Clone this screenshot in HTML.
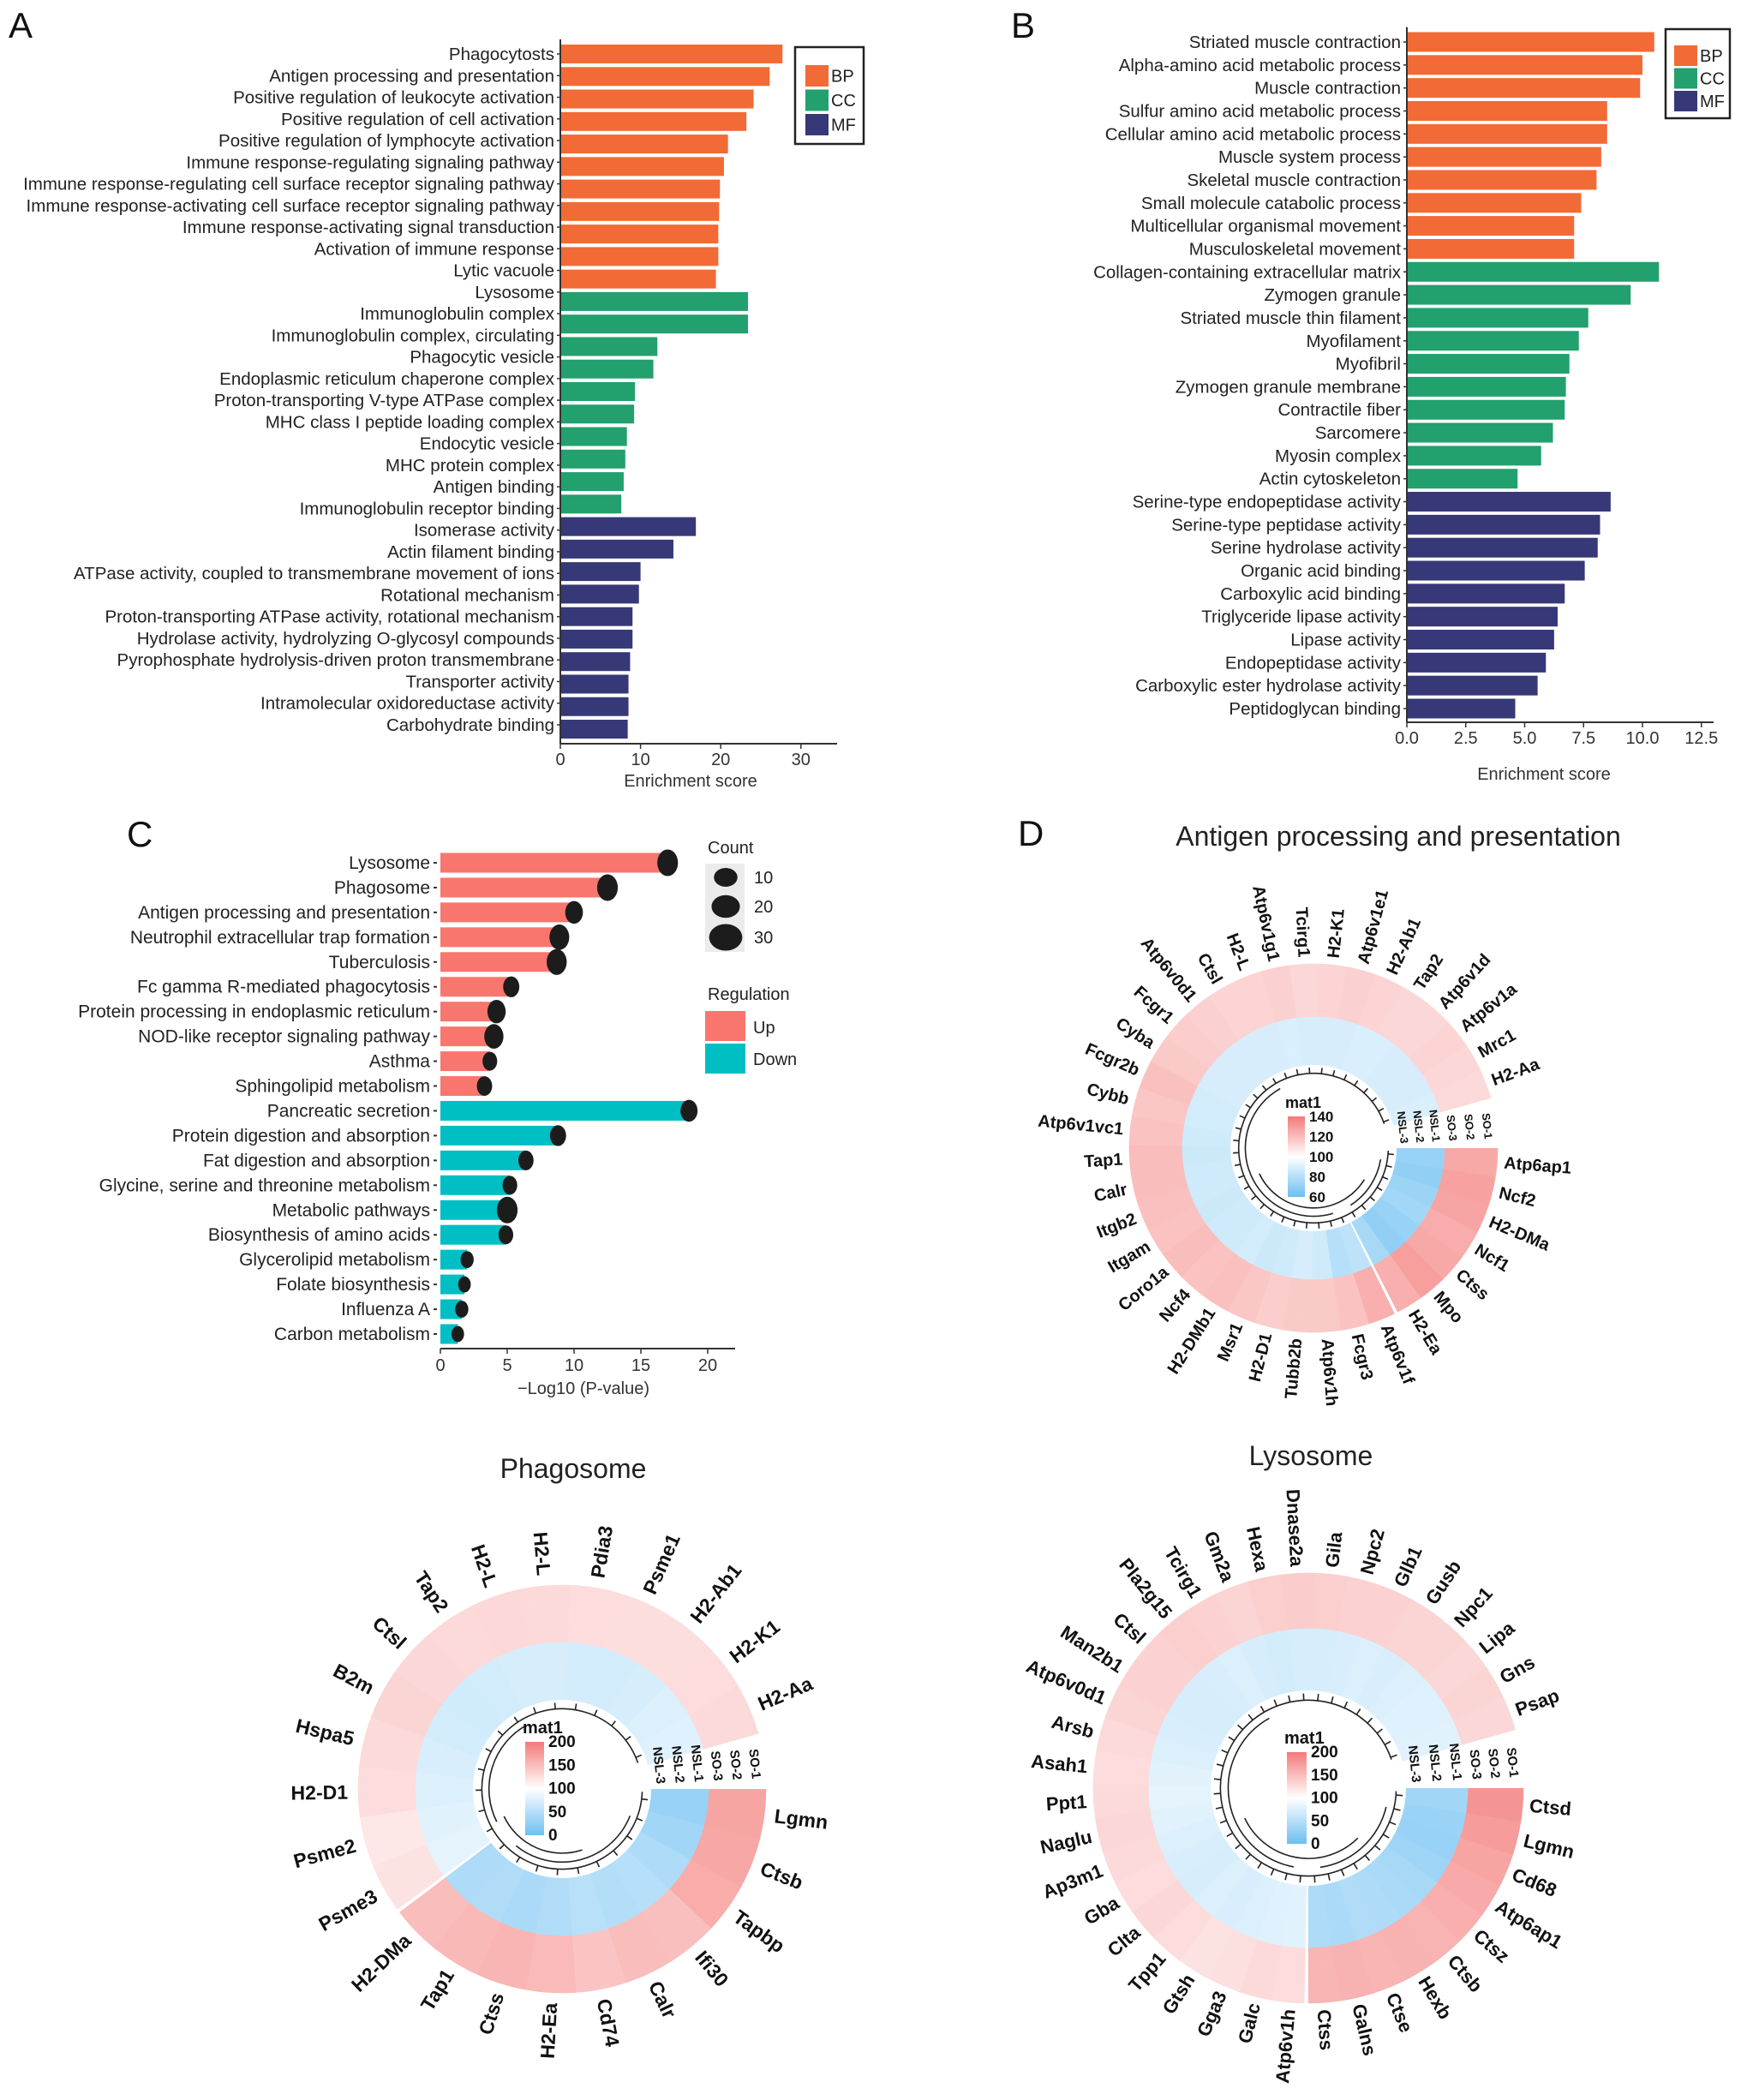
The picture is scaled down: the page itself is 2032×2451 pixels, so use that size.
<!DOCTYPE html>
<html><head><meta charset="utf-8">
<style>
html,body{margin:0;padding:0;background:#fff;}
svg{display:block;font-family:"Liberation Sans",Arial,sans-serif;}
</style></head>
<body>
<svg id="fig" width="2032" height="2451" viewBox="0 0 2032 2451" xmlns="http://www.w3.org/2000/svg">
<rect width="2032" height="2451" fill="#fff"/>
<g id="panelA"></g>
<g id="panelB"></g>
<g id="panelC"></g>
<g id="panelD"></g>
</svg>
<script>
// ---------- Panel A data ----------
const aLabels = ["Phagocytosts","Antigen processing and presentation","Positive regulation of leukocyte activation","Positive regulation of cell activation","Positive regulation of lymphocyte activation","Immune response-regulating signaling pathway","Immune response-regulating cell surface receptor signaling pathway","Immune response-activating cell surface receptor signaling pathway","Immune response-activating signal transduction","Activation of immune response","Lytic vacuole","Lysosome","Immunoglobulin complex","Immunoglobulin complex, circulating","Phagocytic vesicle","Endoplasmic reticulum chaperone complex","Proton-transporting V-type ATPase complex","MHC class I peptide loading complex","Endocytic vesicle","MHC protein complex","Antigen binding","Immunoglobulin receptor binding","Isomerase activity","Actin filament binding","ATPase activity, coupled to transmembrane movement of ions","Rotational mechanism","Proton-transporting ATPase activity, rotational mechanism","Hydrolase activity, hydrolyzing O-glycosyl compounds","Pyrophosphate hydrolysis-driven proton transmembrane","Transporter activity","Intramolecular oxidoreductase activity","Carbohydrate binding"];
const aValues = [27.7,26.1,24.1,23.2,20.9,20.4,19.9,19.8,19.7,19.7,19.4,23.4,23.4,12.1,11.6,9.3,9.2,8.3,8.1,7.9,7.6,16.9,14.1,10.0,9.8,9.0,9.0,8.7,8.5,8.5,8.4];
const aGroups = ["BP","BP","BP","BP","BP","BP","BP","BP","BP","BP","BP","CC","CC","CC","CC","CC","CC","CC","CC","CC","CC","MF","MF","MF","MF","MF","MF","MF","MF","MF","MF"];
const aTicks = [0,10,20,30];
// ---------- Panel B data ----------
const bLabels = ["Striated muscle contraction","Alpha-amino acid metabolic process","Muscle contraction","Sulfur amino acid metabolic process","Cellular amino acid metabolic process","Muscle system process","Skeletal muscle contraction","Small molecule catabolic process","Multicellular organismal movement","Musculoskeletal movement","Collagen-containing extracellular matrix","Zymogen granule","Striated muscle thin filament","Myofilament","Myofibril","Zymogen granule membrane","Contractile fiber","Sarcomere","Myosin complex","Actin cytoskeleton","Serine-type endopeptidase activity","Serine-type peptidase activity","Serine hydrolase activity","Organic acid binding","Carboxylic acid binding","Triglyceride lipase activity","Lipase activity","Endopeptidase activity","Carboxylic ester hydrolase activity","Peptidoglycan binding"];
const bValues = [10.5,10.0,9.9,8.5,8.5,8.25,8.05,7.4,7.1,7.1,10.7,9.5,7.7,7.3,6.9,6.75,6.7,6.2,5.7,4.7,8.65,8.2,8.1,7.55,6.7,6.4,6.25,5.9,5.55,4.6];
const bGroups = ["BP","BP","BP","BP","BP","BP","BP","BP","BP","BP","CC","CC","CC","CC","CC","CC","CC","CC","CC","CC","MF","MF","MF","MF","MF","MF","MF","MF","MF","MF"];
const bTicks = [0,2.5,5,7.5,10,12.5];
const bTickLabels = ["0.0","2.5","5.0","7.5","10.0","12.5"];
// ---------- Panel C data ----------
const cLabels = ["Lysosome","Phagosome","Antigen processing and presentation","Neutrophil extracellular trap formation","Tuberculosis","Fc gamma R-mediated phagocytosis","Protein processing in endoplasmic reticulum","NOD-like receptor signaling pathway","Asthma","Sphingolipid metabolism","Pancreatic secretion","Protein digestion and absorption","Fat digestion and absorption","Glycine, serine and threonine metabolism","Metabolic pathways","Biosynthesis of amino acids","Glycerolipid metabolism","Folate biosynthesis","Influenza A","Carbon metabolism"];
const cValues = [17.0,12.5,10.0,8.9,8.7,5.3,4.2,4.0,3.7,3.3,18.6,8.8,6.4,5.2,5.0,4.9,2.0,1.8,1.6,1.3];
const cCounts = [30,30,20,27,28,15,22,25,10,12,18,15,12,10,30,10,5,3,5,3];
const cRegulation = ["Up","Up","Up","Up","Up","Up","Up","Up","Up","Up","Down","Down","Down","Down","Down","Down","Down","Down","Down","Down"];
const cTicks = [0,5,10,15,20];
const cCountLegend = [10,20,30];
// ---------- Panel D data ----------
const dGenes = ["Atp6ap1","Ncf2","H2-DMa","Ncf1","Ctss","Mpo","H2-Ea","Atp6v1f","Fcgr3","Atp6v1h","Tubb2b","H2-D1","Msr1","H2-DMb1","Ncf4","Coro1a","Itgam","Itgb2","Calr","Tap1","Atp6v1vc1","Cybb","Fcgr2b","Cyba","Fcgr1","Atp6v0d1","Ctsl","H2-L","Atp6v1g1","Tcirg1","H2-K1","Atp6v1e1","H2-Ab1","Tap2","Atp6v1d","Atp6v1a","Mrc1","H2-Aa"];
const dSO  = [126,128,127,125,126,129,124,124,118,116,116,115,117,119,118,120,118,119,120,120,118,117,119,116,115,114,113,113,114,112,113,114,113,112,112,113,112,111];
const dNSL = [72,70,73,75,72,70,76,82,80,87,89,87,86,88,87,87,86,87,87,86,87,88,88,89,89,89,89,89,90,89,89,89,90,90,89,89,89,90];
const dStrongCount = 7;
const pGenes = ["Lgmn","Ctsb","Tapbp","Ifi30","Calr","Cd74","H2-Ea","Ctss","Tap1","H2-DMa","Psme3","Psme2","H2-D1","Hspa5","B2m","Ctsl","Tap2","H2-L","H2-L","Pdia3","Psme1","H2-Ab1","H2-K1","H2-Aa"];
const pSO  = [168,166,162,148,150,144,152,156,153,150,122,118,126,128,132,130,128,129,128,126,125,125,126,128];
const pNSL = [30,36,44,50,48,52,46,42,46,44,82,80,76,74,70,68,70,72,72,70,70,72,76,78];
const pStrongCount = 10;
const lGenes = ["Ctsd","Lgmn","Cd68","Atp6ap1","Ctsz","Ctsb","Hexb","Ctse","Galns","Ctss","Atp6v1h","Galc","Gga3","Gtsh","Tpp1","Clta","Gba","Ap3m1","Naglu","Ppt1","Asah1","Arsb","Atp6v0d1","Man2b1","Ctsl","Pla2g15","Tcirg1","Gm2a","Hexa","Dnase2a","Gila","Npc2","Glb1","Gusb","Npc1","Lipa","Gns","Psap"];
const lSO  = [180,174,168,164,160,157,158,156,158,156,126,128,124,122,126,130,126,128,130,128,126,128,132,134,134,136,134,132,136,138,136,134,134,132,132,130,132,130];
const lNSL = [36,32,30,34,40,42,44,46,42,44,80,78,76,74,76,72,74,76,80,82,80,76,74,72,72,74,76,72,70,72,72,74,76,74,76,78,78,80];
const lStrongCount = 10;
</script>
<script>
const NS="http://www.w3.org/2000/svg";
function el(tag, attrs, parent){const e=document.createElementNS(NS,tag);for(const k in attrs)e.setAttribute(k,attrs[k]);if(parent)parent.appendChild(e);return e;}
function txt(parent, s, attrs){const t=el('text',attrs,parent);t.textContent=s;return t;}
const groupColor={BP:"#F26A36",CC:"#22A06D",MF:"#363878"};

function barPanel(gid, labels, values, groups, o){
  const g=document.getElementById(gid);
  const xs=v=>o.x0+v*o.ppu;
  const ys=i=>o.y0+i*o.step;
  const ly=i=>o.ly0+i*o.lstep;
  const yl=el('line',{x1:o.x0,x2:o.x0,y1:o.y0-o.step/2-4,y2:o.axisY,stroke:"#333","stroke-width":2},g);
  
  
  values.forEach((v,i)=>{
    const r=el('rect',{x:o.x0+1,y:ys(i)-o.barH/2,width:Math.max(0,xs(v)-o.x0-1),height:o.barH,fill:groupColor[groups[i]]},g);
    
    
  });
  labels.forEach((lab,i)=>{
    const t=txt(g,lab,{x:o.x0-7,y:ly(i)+7,"text-anchor":"end","font-size":o.fs,fill:"#222"});
    
    
    el('line',{x1:o.x0-4,x2:o.x0,y1:ly(i),y2:ly(i),stroke:"#333","stroke-width":1.5},g);
  });
  const xl=el('line',{x1:o.x0,x2:o.axisEnd,y1:o.axisY,y2:o.axisY,stroke:"#333","stroke-width":2},g);
  
  
  o.ticks.forEach((tv,i)=>{
    el('line',{x1:xs(tv),x2:xs(tv),y1:o.axisY,y2:o.axisY+6,stroke:"#333","stroke-width":1.5},g);
    const t=txt(g,o.tickLabels?o.tickLabels[i]:String(tv),{x:xs(tv),y:o.axisY+25,"text-anchor":"middle","font-size":o.tfs,fill:"#333"});
    
    
  });
  const tt=txt(g,o.title,{x:o.titleX,y:o.titleY,"text-anchor":"middle","font-size":o.tfs,fill:"#333"});
  
  
  const L=txt(g,o.letter,{x:o.letterX,y:o.letterY,"font-size":42,fill:"#111"});
  
  
  if(o.legend){
    const lg=o.legend;
    const lgG=el('g',{},g);
    
    
    el('rect',{x:lg.x,y:lg.y,width:lg.w,height:lg.h,fill:"#fff",stroke:"#222","stroke-width":2.5},lgG);
    ["BP","CC","MF"].forEach((k,i)=>{
      const sw=el('rect',{x:lg.sx,y:lg.sy+i*lg.sstep,width:lg.sw,height:lg.sh,fill:groupColor[k]},lgG);
      
      
      const t=txt(lgG,k,{x:lg.sx+lg.sw+3,y:lg.sy+i*lg.sstep+lg.sh/2+7,"font-size":20,fill:"#222"});
      
      
    });
  }
}
barPanel('panelA',aLabels,aValues,aGroups,{
  x0:654,ppu:9.36,y0:63,step:(851-63)/(aValues.length-1),ly0:63,lstep:(846-63)/(aLabels.length-1),barH:22,axisY:868,axisEnd:977,ticks:aTicks,fs:20.5,tfs:20,
  title:"Enrichment score",titleX:806,titleY:918,letter:"A",letterX:10,letterY:44,
  legend:{x:928,y:55,w:80,h:113,sx:940,sy:76,sstep:28.5,sw:27,sh:25}});
barPanel('panelB',bLabels,bValues,bGroups,{
  x0:1642,ppu:27.5,y0:49,step:(827-49)/29,ly0:49,lstep:(827-49)/29,barH:23,axisY:843,axisEnd:2000,ticks:bTicks,tickLabels:bTickLabels,fs:20.5,tfs:20,
  title:"Enrichment score",titleX:1802,titleY:910,letter:"B",letterX:1180,letterY:44,
  legend:{x:1944,y:34,w:75,h:104,sx:1954,sy:53,sstep:26.5,sw:27,sh:24}});
</script>
<script>
(function(){
  const g=document.getElementById('panelC');
  const x0=514, ppu=15.6, y0=1007, step=(1557-1007)/19, barH=23, axisY=1574;
  const xs=v=>x0+v*ppu, ys=i=>y0+i*step;
  const regColor={Up:"#F8766D",Down:"#00BFC4"};
  const sz=c=>8.75+0.225*c;
  cLabels.forEach((lab,i)=>{
    const r=el('rect',{x:x0,y:ys(i)-barH/2,width:xs(cValues[i])-x0,height:barH,fill:regColor[cRegulation[i]]},g);
    
    
    const s=sz(cCounts[i]);
    const d=el('ellipse',{cx:xs(cValues[i]),cy:ys(i),rx:s*0.78,ry:s,fill:"#1c1c1c"},g);
    
    
    const t=txt(g,lab,{x:x0-12,y:ys(i)+7,"text-anchor":"end","font-size":21,fill:"#222"});
    
    
    el('line',{x1:x0-8,x2:x0-4,y1:ys(i),y2:ys(i),stroke:"#333","stroke-width":2},g);
  });
  const xl=el('line',{x1:x0,x2:858,y1:axisY,y2:axisY,stroke:"#333","stroke-width":2},g);
  
  
  cTicks.forEach(tv=>{
    el('line',{x1:xs(tv),x2:xs(tv),y1:axisY,y2:axisY+6,stroke:"#333","stroke-width":1.5},g);
    const t=txt(g,String(tv),{x:xs(tv),y:axisY+26,"text-anchor":"middle","font-size":20,fill:"#333"});
    
    
  });
  const tt=txt(g,"\u2212Log10 (P-value)",{x:681,y:1627,"text-anchor":"middle","font-size":20,fill:"#333"});
  
  
  const L=txt(g,"C",{x:148,y:988,"font-size":42,fill:"#111"});
  
  
  const ct=txt(g,"Count",{x:826,y:996,"font-size":20,fill:"#222"});
  
  
  el('rect',{x:823,y:1008,width:46,height:103,fill:"#ebebeb"},g);
  const ly=[1024,1058,1094];
  cCountLegend.forEach((c,i)=>{
    const s=sz(c);
    const e=el('ellipse',{cx:847,cy:ly[i],rx:s*1.25,ry:s,fill:"#1c1c1c"},g);
    
    
    txt(g,String(c),{x:880,y:ly[i]+7,"font-size":20,fill:"#222"});
  });
  const rt=txt(g,"Regulation",{x:826,y:1167,"font-size":20,fill:"#222"});
  
  
  const up=el('rect',{x:823,y:1180,width:47,height:35,fill:"#F8766D"},g);
  
  
  const dn=el('rect',{x:823,y:1218,width:47,height:35,fill:"#00BFC4"},g);
  
  
  txt(g,"Up",{x:879,y:1206,"font-size":20,fill:"#222"});
  txt(g,"Down",{x:879,y:1243,"font-size":20,fill:"#222"});
})();
</script>
<script>
function hexToRgb(h){return [parseInt(h.slice(1,3),16),parseInt(h.slice(3,5),16),parseInt(h.slice(5,7),16)];}
const LOWC=hexToRgb("#6CBFF2"), MIDC=[255,255,255], HIGHC=hexToRgb("#F37A78");
function colorFor(v,lo,mid,hi){
  let a,b,t;
  if(v<mid){t=Math.max(0,Math.min(1,(v-lo)/(mid-lo)));a=LOWC;b=MIDC;}
  else{t=Math.max(0,Math.min(1,(v-mid)/(hi-mid)));a=MIDC;b=HIGHC;}
  const c=a.map((x,i)=>Math.round(x+(b[i]-x)*t));
  return "rgb("+c.join(",")+")";
}
function arcPath(cx,cy,r1,r2,a1,a2){
  const rad=d=>d*Math.PI/180;
  const p=(r,a)=>[cx+r*Math.cos(rad(a)),cy+r*Math.sin(rad(a))];
  const large=(a2-a1)>180?1:0;
  const A=p(r2,a1),B=p(r2,a2),C=p(r1,a2),D=p(r1,a1);
  return `M${A[0]},${A[1]} A${r2},${r2} 0 ${large} 1 ${B[0]},${B[1]} L${C[0]},${C[1]} A${r1},${r1} 0 ${large} 0 ${D[0]},${D[1]} Z`;
}
function arcOnly(cx,cy,r,a1,a2){
  const rad=d=>d*Math.PI/180;
  const large=(a2-a1)>180?1:0;
  return `M${cx+r*Math.cos(rad(a1))},${cy+r*Math.sin(rad(a1))} A${r},${r} 0 ${large} 1 ${cx+r*Math.cos(rad(a2))},${cy+r*Math.sin(rad(a2))}`;
}
function circHeat(o){
  const root=document.getElementById('panelD');
  const g=el('g',{},root);
  
  
  const n=o.genes.length, sweep=344, step=sweep/n;
  const tr=[];
  const wOut=(o.rOut-o.rMid)/3, wIn=(o.rMid-o.rIn)/3;
  for(let k=0;k<3;k++) tr.push([o.rOut-(k+1)*wOut,o.rOut-k*wOut,'so']);
  for(let k=0;k<3;k++) tr.push([o.rMid-(k+1)*wIn,o.rMid-k*wIn,'nsl']);
  o.genes.forEach((gene,i)=>{
    const a1=i*step, a2=(i+1)*step;
    tr.forEach(t=>{
      const v=t[2]==='so'?o.so[i]:o.nsl[i];
      const p=el('path',{d:arcPath(o.cx,o.cy,t[0],t[1]+0.3,a1,a2+0.3),fill:colorFor(v,o.lo,o.mid,o.hi)},g);
      
      
    });
    const am=(i+0.5)*step, R=o.labelR;
    const px=o.cx+R*Math.cos(am*Math.PI/180), py=o.cy+R*Math.sin(am*Math.PI/180);
    const flip=am>90&&am<270;
    const t=txt(g,gene,{x:px,y:py,"font-size":o.fs,"font-weight":"bold",fill:"#111","dominant-baseline":"central","text-anchor":flip?"end":"start",transform:`rotate(${flip?am+180:am} ${px} ${py})`});
    
    
  });
  const sa=o.strong*step;
  el('path',{d:arcPath(o.cx,o.cy,o.rIn-1,o.rOut+1,sa-0.5,sa+0.5),fill:"#fff"},g);
  const names=["SO-1","SO-2","SO-3","NSL-1","NSL-2","NSL-3"];
  tr.forEach((t,k)=>{
    const r=(t[0]+t[1])/2;
    const ang=-3*Math.PI/180;
    const px=o.cx+r*Math.cos(ang), py=o.cy+r*Math.sin(ang);
    const tl=txt(g,names[k],{x:px,y:py,"font-size":o.tfs,"font-weight":"bold",fill:"#111","text-anchor":"end","dominant-baseline":"central",transform:`rotate(84 ${px} ${py})`});
    
    
  });
  const dg=el('g',{fill:"none",stroke:"#222","stroke-width":1.6},g);
  
  
  const rr=o.rIn;
  dg.appendChild(el('path',{d:arcOnly(o.cx,o.cy,rr*0.9,2,sweep-3)}));
  dg.appendChild(el('path',{d:arcOnly(o.cx,o.cy,rr*0.82,o.strong*step*0.15,o.strong*step*0.9)}));
  dg.appendChild(el('path',{d:arcOnly(o.cx,o.cy,rr*0.82,o.strong*step+10,sweep*0.7)}));
  dg.appendChild(el('path',{d:arcOnly(o.cx,o.cy,rr*0.72,o.strong*step*0.5,sweep*0.45)}));
  for(let i=0;i<n;i++){
    const a=(i+0.5)*step*Math.PI/180;
    dg.appendChild(el('line',{x1:o.cx+rr*0.9*Math.cos(a),y1:o.cy+rr*0.9*Math.sin(a),x2:o.cx+rr*0.97*Math.cos(a),y2:o.cy+rr*0.97*Math.sin(a)}));
  }
  const lg=el('g',{},g);
  
  
  const gid='grad-'+o.name;
  const defs=el('defs',{},lg);
  const lgr=el('linearGradient',{id:gid,x1:0,y1:1,x2:0,y2:0},defs);
  el('stop',{offset:"0%","stop-color":"#6CBFF2"},lgr);
  el('stop',{offset:"50%","stop-color":"#ffffff"},lgr);
  el('stop',{offset:"100%","stop-color":"#F37A78"},lgr);
  txt(lg,"mat1",{x:o.leg.x-3,y:o.leg.y-10,"font-size":o.leg.fs+1,"font-weight":"bold",fill:"#111"});
  el('rect',{x:o.leg.x,y:o.leg.y,width:o.leg.w,height:o.leg.h,fill:`url(#${gid})`},lg);
  o.leg.labels.forEach((s,i)=>{
    txt(lg,s,{x:o.leg.x+o.leg.w+5,y:o.leg.y+i*o.leg.h/(o.leg.labels.length-1)+6,"font-size":o.leg.fs,"font-weight":"bold",fill:"#111"});
  });
  const T=txt(g,o.title,{x:o.titleX,y:o.titleY,"text-anchor":"middle","font-size":32,fill:"#222"});
  
  
}
circHeat({name:"antigen-processing-heatmap",genes:dGenes,so:dSO,nsl:dNSL,strong:dStrongCount,cx:1533,cy:1340,rIn:97,rMid:153,rOut:215,labelR:223,fs:20,tfs:13,lo:60,mid:100,hi:140,
  leg:{x:1503,y:1303,w:20,h:94,fs:17,labels:["140","120","100","80","60"]},title:"Antigen processing and presentation",titleX:1632,titleY:987});
circHeat({name:"phagosome-heatmap",genes:pGenes,so:pSO,nsl:pNSL,strong:pStrongCount,cx:656,cy:2088,rIn:104,rMid:171,rOut:238,labelR:250,fs:23,tfs:15,lo:0,mid:100,hi:200,
  leg:{x:613,y:2033,w:22,h:109,fs:19,labels:["200","150","100","50","0"]},title:"Phagosome",titleX:669,titleY:1725});
circHeat({name:"lysosome-heatmap",genes:lGenes,so:lSO,nsl:lNSL,strong:lStrongCount,cx:1527,cy:2087,rIn:114,rMid:186,rOut:251,labelR:259,fs:22,tfs:15,lo:0,mid:100,hi:200,
  leg:{x:1502,y:2045,w:23,h:107,fs:19,labels:["200","150","100","50","0"]},title:"Lysosome",titleX:1530,titleY:1710});
(function(){
  const L=txt(document.getElementById('panelD'),"D",{x:1188,y:987,"font-size":42,fill:"#111"});
  
  
})();
</script>
</body></html>
